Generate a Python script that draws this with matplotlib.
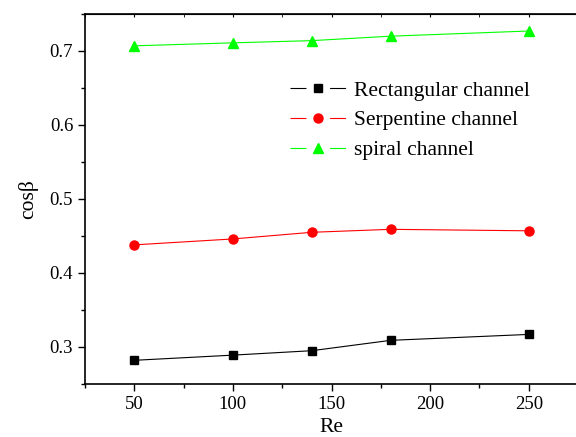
import matplotlib.pyplot as plt
from matplotlib.lines import Line2D
from matplotlib.legend_handler import HandlerTuple
from matplotlib.ticker import MultipleLocator

re_vals = [50, 100, 140, 180, 250]
rect_cos = [0.282, 0.289, 0.295, 0.309, 0.317]
serp_cos = [0.438, 0.446, 0.455, 0.459, 0.457]
spiral_cos = [0.707, 0.711, 0.714, 0.720, 0.727]
labels = ['Rectangular channel', 'Serpentine channel', 'spiral channel']

plt.rcParams['font.family'] = 'Liberation Serif'
plt.rcParams['font.size'] = 13.5
plt.rcParams['lines.scale_dashes'] = False

fig = plt.figure(figsize=(5.76, 4.37), dpi=100)
ax = fig.add_axes([0.1476, 0.1213, 0.856, 0.8467])

styles = [('s', 'black', 5.5), ('o', 'red', 6.5), ('^', '#00ff00', 7.5)]
series = [rect_cos, serp_cos, spiral_cos]
handles = []
for (mk, col, ms), ys, lab in zip(styles, series, labels):
    ax.plot(re_vals, ys, marker=mk, color=col, lw=0.8, ms=ms, mec=col)
    # legend entry: line broken around the symbol
    seg = Line2D([], [], color=col, lw=0.8, linestyle=(0, (11.5, 17.0)))
    sym = Line2D([], [], color=col, marker=mk, ms=ms, lw=0)
    handles.append((seg, sym))

ax.set_xlim(25, 275)
ax.set_ylim(0.25, 0.75)
ax.xaxis.set_major_locator(MultipleLocator(50))
ax.xaxis.set_minor_locator(MultipleLocator(25))
ax.yaxis.set_major_locator(MultipleLocator(0.1))
ax.yaxis.set_minor_locator(MultipleLocator(0.05))
ax.tick_params(which='both', direction='out', width=1, top=False, right=False)
ax.tick_params(which='major', length=5)
ax.tick_params(which='minor', length=3)
ax.spines['right'].set_visible(False)
for s in ['left', 'bottom', 'top']:
    ax.spines[s].set_linewidth(1.2)
# small inward marks along the top
axt = ax.secondary_xaxis('top')
axt.xaxis.set_major_locator(MultipleLocator(50))
axt.xaxis.set_minor_locator(MultipleLocator(25))
axt.tick_params(which='both', direction='in', length=2, labeltop=False)

ax.set_xlabel('Re', fontsize=15.5, labelpad=4)
ax.set_ylabel('cosβ', fontsize=15.5, labelpad=8)

ax.legend(handles, labels, handler_map={tuple: HandlerTuple(ndivide=1, pad=0)},
          loc='upper left', bbox_to_anchor=(0.416, 0.82), frameon=False,
          handlelength=2.6, handletextpad=0.35, labelspacing=0.45,
          borderaxespad=0, borderpad=0, fontsize=15.5)

fig.savefig('out.png', dpi=100)
